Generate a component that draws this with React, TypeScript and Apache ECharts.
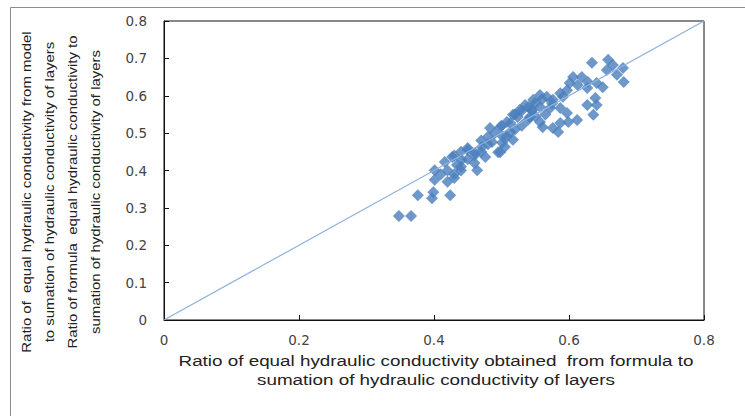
import React, { useEffect, useRef } from "react";
import * as echarts from "echarts";

const xTicks = [0, 0.2, 0.4, 0.6, 0.8];
const yTicks = [0, 0.1, 0.2, 0.3, 0.4, 0.5, 0.6, 0.7, 0.8];

const formulaRatio = [
  0.348, 0.366, 0.376, 0.397, 0.399, 0.424, 0.401, 0.401, 0.416, 0.427,
  0.434, 0.441, 0.45, 0.464, 0.461, 0.471, 0.476, 0.483, 0.486, 0.495,
  0.501, 0.508, 0.513, 0.517, 0.524, 0.539, 0.545,
  0.634, 0.658, 0.665, 0.656, 0.68, 0.671, 0.681, 0.606, 0.619, 0.601,
  0.613, 0.628, 0.641, 0.65, 0.597, 0.627, 0.587, 0.591, 0.639, 0.627,
  0.641, 0.636, 0.557, 0.567, 0.576, 0.547, 0.535, 0.557, 0.572, 0.587,
  0.597, 0.612, 0.599, 0.587, 0.576, 0.584, 0.561, 0.557, 0.542, 0.527,
  0.517, 0.508, 0.498, 0.513, 0.502, 0.505, 0.498,
  0.41, 0.42, 0.43, 0.44, 0.45, 0.43, 0.44, 0.45, 0.46, 0.47,
  0.47, 0.48, 0.49, 0.48, 0.42, 0.43, 0.44, 0.46, 0.5, 0.52,
  0.53, 0.55, 0.56, 0.54,
  0.53, 0.55, 0.565, 0.575, 0.545, 0.52,
];
const modelRatio = [
  0.278, 0.278, 0.334, 0.326, 0.342, 0.334, 0.401, 0.375, 0.423, 0.436,
  0.415, 0.428, 0.455, 0.401, 0.447, 0.463, 0.436, 0.514, 0.476, 0.449,
  0.474, 0.49, 0.527, 0.482, 0.543, 0.535, 0.562,
  0.688, 0.696, 0.682, 0.669, 0.674, 0.656, 0.637, 0.65, 0.65, 0.634,
  0.629, 0.637, 0.634, 0.623, 0.615, 0.621, 0.607, 0.597, 0.594, 0.575,
  0.575, 0.549, 0.602, 0.597, 0.589, 0.589, 0.575, 0.57, 0.567, 0.567,
  0.554, 0.535, 0.53, 0.527, 0.514, 0.503, 0.516, 0.53, 0.543, 0.562,
  0.549, 0.53, 0.516, 0.503, 0.49, 0.463, 0.449,
  0.39, 0.4, 0.39, 0.41, 0.43, 0.44, 0.45, 0.46, 0.44, 0.45,
  0.48, 0.47, 0.5, 0.49, 0.37, 0.38, 0.4, 0.42, 0.52, 0.55,
  0.56, 0.58, 0.59, 0.57,
  0.52, 0.545, 0.55, 0.58, 0.56, 0.51,
];
const lineEnds = [0, 0.8];

const yTitle = [
  "Ratio of  equal hydraulic conductivity from model",
  "to sumation of hydraulic conductivity of layers",
  "Ratio of formula  equal hydraulic conductivity to",
  "sumation of hydraulic conductivity of layers",
];
const xTitle = [
  "Ratio of equal hydraulic conductivity obtained  from formula to",
  "sumation of hydraulic conductivity of layers",
];

export default function App() {
  const ref = useRef<HTMLDivElement>(null);
  useEffect(() => {
    if (!ref.current) return;
    const chart = echarts.init(ref.current, null, { renderer: "svg" });
    const font = "'Liberation Sans', Arial, sans-serif";
    const tickFont = "'DejaVu Sans', 'Liberation Sans', sans-serif";
    const fmt = (v: number) => String(Number(v.toFixed(1)));
    chart.setOption({
      animation: false,
      backgroundColor: "#fff",
      grid: {
        left: 164,
        right: 41,
        top: 21,
        bottom: 96,
        show: true,
        borderColor: "#111",
        borderWidth: 1,
        outerBoundsMode: "none",
      },
      xAxis: {
        type: "value",
        min: xTicks[0],
        max: xTicks[xTicks.length - 1],
        interval: 0.2,
        axisLine: { show: true, lineStyle: { color: "#111" } },
        axisTick: { show: true, inside: true, length: 5, lineStyle: { color: "#111" } },
        splitLine: { show: false },
        axisLabel: {
          margin: 13,
          color: "#444",
          fontSize: 13.5,
          fontFamily: tickFont,
          formatter: fmt,
        },
      },
      yAxis: {
        type: "value",
        min: yTicks[0],
        max: yTicks[yTicks.length - 1],
        interval: 0.1,
        axisLine: { show: true, lineStyle: { color: "#111" } },
        axisTick: { show: true, inside: true, length: 5, lineStyle: { color: "#111" } },
        splitLine: { show: false },
        axisLabel: {
          margin: 17,
          color: "#444",
          fontSize: 13.5,
          fontFamily: tickFont,
          formatter: fmt,
        },
      },
      series: [
        {
          type: "scatter",
          data: formulaRatio.map((x, i) => [x, modelRatio[i]]),
          symbol: "diamond",
          symbolSize: 12,
          itemStyle: { color: "#4a7ebb" },
          z: 2,
        },
        {
          type: "line",
          data: lineEnds.map((v) => [v, v]),
          symbol: "none",
          lineStyle: { color: "#8eb2de", width: 1.2 },
          z: 3,
          silent: true,
        },
      ],
      graphic: [
        {
          type: "rect",
          shape: { x: 10.5, y: 7.5, width: 760, height: 440 },
          style: { fill: "none", stroke: "#8c8c8c", lineWidth: 1 },
          silent: true,
        },
        {
          type: "text",
          x: 61,
          y: 192,
          rotation: Math.PI / 2,
          scaleX: 1.15,
          style: {
            text: yTitle.join("\n"),
            fontSize: 13,
            lineHeight: 23,
            fontFamily: font,
            fill: "#222",
            align: "center",
            verticalAlign: "middle",
          },
        },
        {
          type: "text",
          x: 436,
          y: 371,
          scaleX: 1.3,
          style: {
            text: xTitle.join("\n"),
            fontSize: 14.5,
            lineHeight: 19,
            fontFamily: font,
            fill: "#222",
            align: "center",
            verticalAlign: "middle",
          },
        },
      ],
    });
    return () => chart.dispose();
  }, []);
  return (
    <div
      ref={ref}
      style={{ position: "absolute", left: 0, top: 0, width: 745, height: 416 }}
    />
  );
}
